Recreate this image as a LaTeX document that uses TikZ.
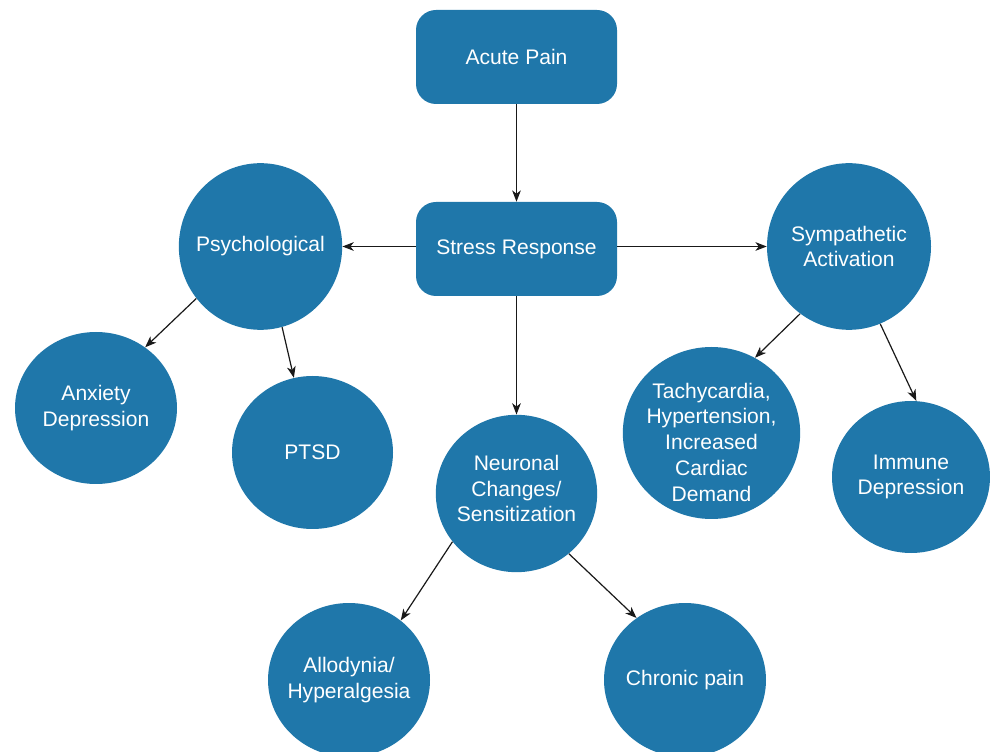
\documentclass[tikz,border=0pt]{standalone}
\usepackage{fontspec}
\setmainfont{Liberation Sans}
\usetikzlibrary{shapes.geometric,arrows.meta}
\definecolor{painblue}{RGB}{31,119,170}
\begin{document}
\begin{tikzpicture}[x=0.75pt, y=-0.75pt,
    box/.style={draw=none, fill=painblue, text=white, rounded corners=15pt,
        minimum width=150.75pt, minimum height=70.5pt, align=center,
        font=\fontsize{15.8}{19.3}\selectfont},
    bubble/.style={ellipse, draw=none, fill=painblue, text=white, align=center,
        inner xsep=-6pt, inner ysep=-2pt,
        font=\fontsize{15.8}{19.3}\selectfont},
    link/.style={-{Stealth[length=8.5pt, width=6.5pt, inset=2.5pt]}, line width=0.9pt, black!90}]
    % Frame
    \useasboundingbox (0,0) rectangle (990,752);
    % Boxes
    \node [box] (acute) at (516.5,57) {Acute Pain};
    \node [box] (stress) at (516.5,249) {Stress Response};
    % Bubbles
    \node [bubble, minimum width=122.5pt, minimum height=125pt] (psych) at (260.5,246.5) {Psychological};
    \node [bubble, minimum width=123pt, minimum height=125pt] (symp) at (849,246.5) {Sympathetic\\Activation};
    \node [bubble, minimum width=121.5pt, minimum height=114pt] (anx) at (96,408) {Anxiety\\Depression};
    \node [bubble, minimum width=120.75pt, minimum height=114.75pt] (ptsd) at (312.5,452.5) {PTSD};
    \node [bubble, minimum width=121pt, minimum height=118pt] (neuro) at (516.5,493.5) {Neuronal\\Changes/\\Sensitization\rule[-7.5pt]{0pt}{0pt}};
    \node [bubble, inner ysep=-8pt, minimum width=133pt, minimum height=129pt] (tachy) at (711.5,433) {\rule{0pt}{25pt}Tachycardia,\\Hypertension,\\Increased\\Cardiac\\Demand};
    \node [bubble, minimum width=118.5pt, minimum height=114pt] (immune) at (911,477) {Immune\\Depression};
    \node [bubble, minimum width=121.5pt, minimum height=115.5pt] (allo) at (349,680) {Allodynia/\\Hyperalgesia};
    \node [bubble, minimum width=121.5pt, minimum height=115.5pt] (chronic) at (685,680) {Chronic pain};
    % Arrows
    \draw [link] (acute) -- (stress);
    \draw [link] (stress.west |- psych.east) -- (psych.east);
    \draw [link] (stress.east |- symp.west) -- (symp.west);
    \draw [link] (stress) -- (neuro);
    \draw [link] (psych.219) -- (anx.51);
    \draw [link] (psych.285) -- (ptsd.104);
    \draw [link] (symp.234) -- (tachy.60);
    \draw [link] (symp.292) -- (immune.86);
    \draw [link] (neuro.217) -- (allo.49);
    \draw [link] (neuro.311) -- (chronic.128);
\end{tikzpicture}
\end{document}
